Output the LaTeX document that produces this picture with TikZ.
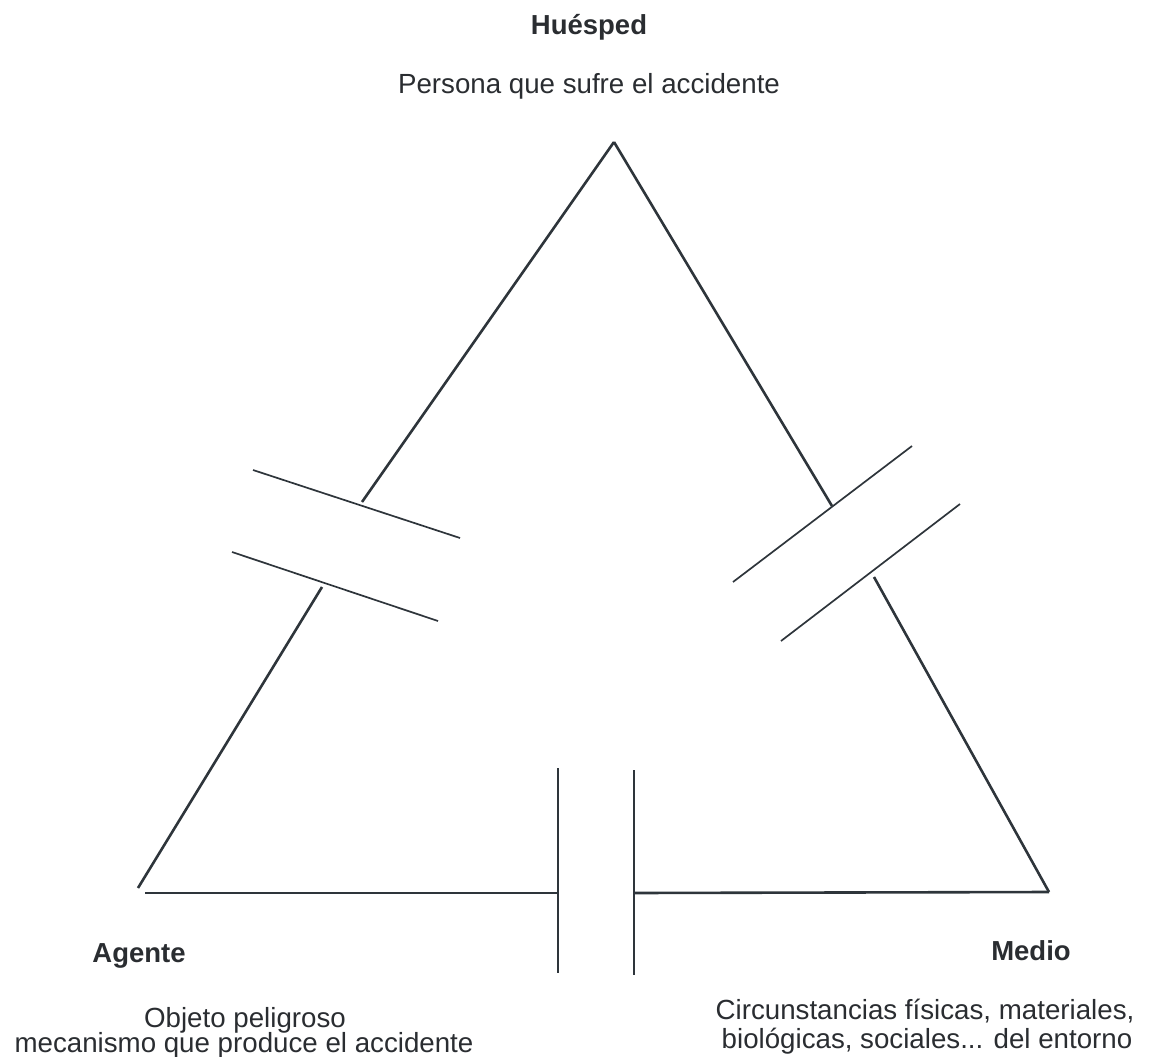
\documentclass[tikz,border=0pt]{standalone}
\usepackage{fontspec}
\setmainfont{Liberation Sans}
\definecolor{ink}{HTML}{2E353B}
\definecolor{txt}{HTML}{2A2D31}
\begin{document}
\begin{tikzpicture}[x=1pt,y=-1pt,
  side/.style={draw=ink,line width=2.6pt},
  plate/.style={draw=ink,line width=1.7pt},
  title/.style={text=txt,font=\fontsize{27.5}{30}\selectfont\bfseries,inner sep=0pt,anchor=base},
  desc/.style={text=txt,font=\fontsize{27.7}{30}\selectfont,inner sep=0pt,anchor=base}]
\useasboundingbox (0,0) rectangle (1149,1057);
% triangle corners and gap points
\coordinate (top) at (614,142);
\coordinate (lA) at (362,502);
\coordinate (lB) at (322,587);
\coordinate (bl) at (138,888);
\coordinate (bl2) at (145,893);
\coordinate (bA) at (558,893);
\coordinate (bB) at (634,893);
\coordinate (br) at (1049,892);
\coordinate (rB) at (874,577);
\coordinate (rA) at (832,506);
% plates
\coordinate (lp1a) at (253,470); \coordinate (lp1b) at (460,538);
\coordinate (lp2a) at (232,552); \coordinate (lp2b) at (438,621);
\coordinate (rp1a) at (733,582); \coordinate (rp1b) at (912,446);
\coordinate (rp2a) at (781,641); \coordinate (rp2b) at (960,504);
\coordinate (bp1a) at (558,768); \coordinate (bp1b) at (558,973);
\coordinate (bp2a) at (634,770); \coordinate (bp2b) at (634,975);
% sides
\draw[side] (top) -- (lA);
\draw[side] (lB) -- (bl);
\draw[side] (bl2) -- (bA);
\draw[side] (bB) -- (br);
\draw[side] (br) -- (rB);
\draw[side] (rA) -- (top);
% plates
\draw[plate] (lp1a) -- (lp1b);
\draw[plate] (lp2a) -- (lp2b);
\draw[plate] (rp1a) -- (rp1b);
\draw[plate] (rp2a) -- (rp2b);
\draw[plate] (bp1a) -- (bp1b);
\draw[plate] (bp2a) -- (bp2b);
% labels
\node[title] (hues) at (589,35) {Huésped};
\node[desc] (huesd) at (589,94) {Persona que sufre el accidente};
\node[title] (agen) at (139,962) {Agente};
\node[desc] (agend1) at (245,1027) {Objeto peligroso};
\node[desc] (agend2) at (244,1052) {mecanismo que produce el accidente};
\node[title] (medi) at (1031,960) {Medio};
\node[desc] (medid1) at (925,1019) {Circunstancias físicas, materiales,};
\node[desc] (medid2) at (927,1048) {biológicas, sociales... del entorno};
\end{tikzpicture}
\end{document}
